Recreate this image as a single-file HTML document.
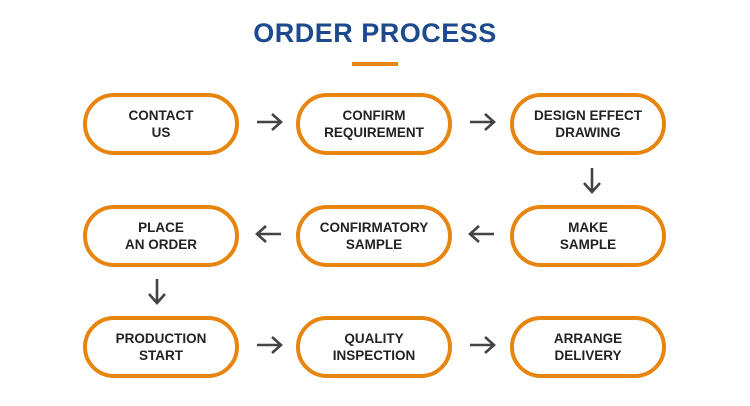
<!DOCTYPE html>
<html><head><style>
body{margin:0;width:750px;height:406px;background:#fff;position:relative;font-family:"Liberation Sans",sans-serif;overflow:hidden}
.t{position:absolute;left:0;width:750px;top:18px;text-align:center;font-size:27px;font-weight:bold;color:#1d4a8c;letter-spacing:0.5px}
.u{position:absolute;left:352px;top:62px;width:46px;height:4px;background:#e8850f}
.b{position:absolute;width:148px;height:54px;border:4px solid #e8850f;border-radius:31px;display:flex;align-items:center;justify-content:center;text-align:center;font-size:13.5px;font-weight:bold;color:#222;line-height:17px}
svg{position:absolute;left:0;top:0}
</style></head><body>
<div class="t">ORDER PROCESS</div><div class="u"></div>
<div class="b" style="left:83px;top:93px">CONTACT<br>US</div>
<div class="b" style="left:296px;top:93px">CONFIRM<br>REQUIREMENT</div>
<div class="b" style="left:510px;top:93px">DESIGN EFFECT<br>DRAWING</div>
<div class="b" style="left:83px;top:205px">PLACE<br>AN ORDER</div>
<div class="b" style="left:296px;top:205px">CONFIRMATORY<br>SAMPLE</div>
<div class="b" style="left:510px;top:205px">MAKE<br>SAMPLE</div>
<div class="b" style="left:83px;top:316px">PRODUCTION<br>START</div>
<div class="b" style="left:296px;top:316px">QUALITY<br>INSPECTION</div>
<div class="b" style="left:510px;top:316px">ARRANGE<br>DELIVERY</div>
<svg width="750" height="406" fill="none" stroke="#444" stroke-width="2.6">
<path d="M257 122H281M272 114L281 122L272 130"/>
<path d="M470 122H494M485 114L494 122L485 130"/>
<path d="M592 168V192M584 183L592 192L600 183"/>
<path d="M494 234H470M479 226L470 234L479 242"/>
<path d="M281 234H257M266 226L257 234L266 242"/>
<path d="M157 279V303M149 294L157 303L165 294"/>
<path d="M257 345H281M272 337L281 345L272 353"/>
<path d="M470 345H494M485 337L494 345L485 353"/>
</svg>
</body></html>
